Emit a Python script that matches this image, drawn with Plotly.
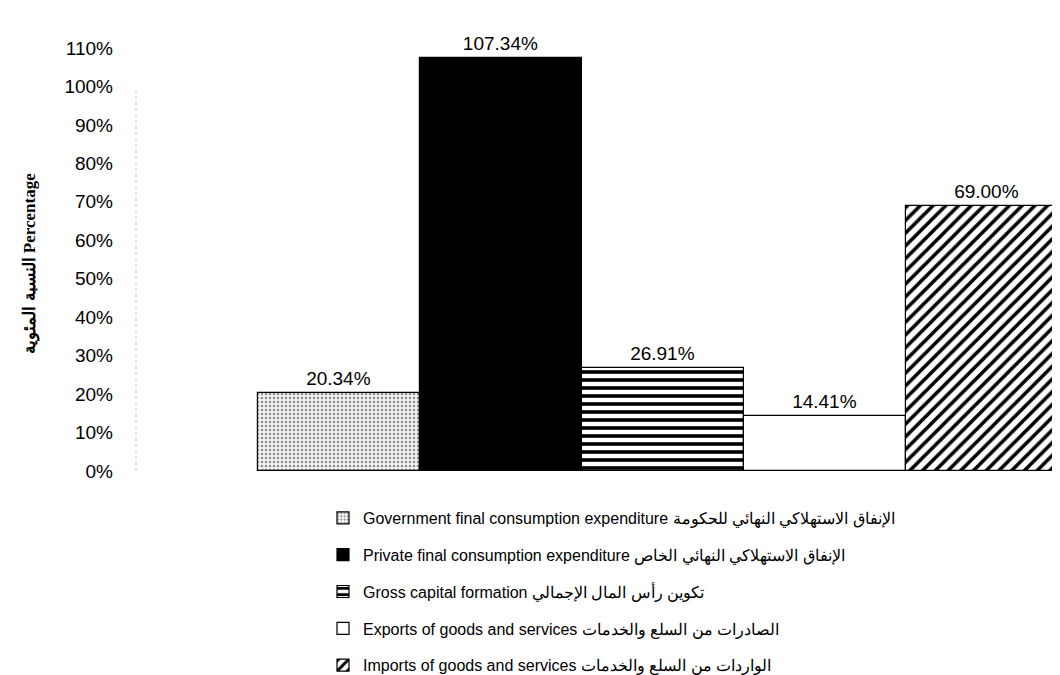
import plotly.graph_objects as go

# values (percent of GDP)
labels = [
    "Government final consumption expenditure الإنفاق الاستهلاكي النهائي للحكومة",
    "Private final consumption expenditure الإنفاق الاستهلاكي النهائي الخاص",
    "Gross capital formation تكوين رأس المال الإجمالي",
    "Exports of goods and services الصادرات من السلع والخدمات",
    "Imports of goods and services الواردات من السلع والخدمات",
]
categories = ["gov", "private", "gcf", "exports", "imports"]
values = [20.34, 107.34, 26.91, 14.41, 69.00]
y_ticks = list(range(0, 111, 10))
y_ticktext = [f"{v}%" for v in y_ticks]
y_title = "النسبة المئوية Percentage"

# fill style per bar: (colour, pattern shape, pattern colour, size, solidity)
styles = [
    ("#f2f2f2", ".", "#8c8c8c", 4, 0.3),
    ("black", "", "black", 8, 0.3),
    ("white", "-", "black", 8, 0.45),
    ("white", "", "black", 8, 0.3),
    ("white", "/", "black", 9, 0.4),
]

fig = go.Figure()
for i, (name, cat, val) in enumerate(zip(labels, categories, values)):
    col, shape, fg, size, sol = styles[i]
    fig.add_trace(go.Bar(
        x=[cat], y=[val], name=name, width=1,
        legendgroup=cat,
        marker=dict(color=col, line=dict(color="black", width=1.2),
                    pattern=dict(shape=shape, fgcolor=fg, bgcolor=col,
                                 size=size, solidity=sol, fillmode="replace")),
        texttemplate="%{y:.2f}%", textposition="outside",
        constraintext="none",
        textfont=dict(family="Liberation Sans, Arial", size=19, color="black"),
        cliponaxis=False,
    ))

fig.update_layout(
    width=1060, height=675,
    paper_bgcolor="white", plot_bgcolor="white",
    margin=dict(l=128, r=0, t=40, b=212, autoexpand=False),
    barmode="overlay", bargap=0,
    font=dict(family="Liberation Sans, Arial", color="black"),
    xaxis=dict(range=[-1.25, 4.5], showticklabels=False, showgrid=False,
               zeroline=False, showline=False, ticks=""),
    yaxis=dict(range=[0, 110], tickvals=y_ticks, ticktext=y_ticktext,
               showgrid=False, zeroline=False, showline=False,
               ticks="", ticklabelstandoff=22,
               tickfont=dict(size=19, family="Liberation Sans, Arial")),
    legend=dict(xref="container", yref="container", x=315 / 1060, y=1 - 493 / 675,
                xanchor="left", yanchor="top", orientation="v",
                tracegroupgap=13, itemwidth=30,
                font=dict(size=16, family="Liberation Sans, Arial")),
    showlegend=True,
)

# rotated axis title (bold serif, Arabic + English)
fig.add_annotation(text=y_title, textangle=-90, showarrow=False,
                   xref="paper", yref="paper", x=-106 / 932, y=0.49,
                   xanchor="center", yanchor="middle",
                   font=dict(family="Liberation Serif, Times New Roman",
                             size=17, weight="bold", color="black"))

# faint scanned axis line
fig.add_shape(type="line", xref="paper", yref="y", x0=0, x1=0, y0=0, y1=100,
              line=dict(color="#c8c8c8", width=1, dash="dot"))

fig.write_html("out.html")
